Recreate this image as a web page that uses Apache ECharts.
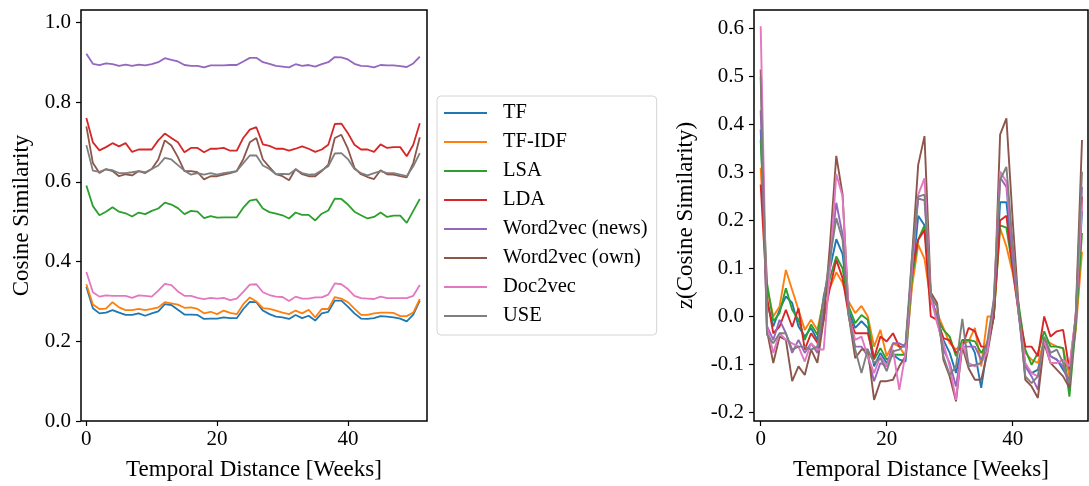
<!DOCTYPE html>
<html>
<head>
<meta charset="utf-8">
<script src="https://cdn.jsdelivr.net/npm/echarts@6/dist/echarts.min.js"></script>
<style>
  html, body { margin: 0; padding: 0; background: #fff; }
  #chart { width: 1089px; height: 486px; }
</style>
</head>
<body>
<div id="chart"></div>
<script>
// Temporal distance in weeks (x values shared by both panels)
const weeks = [0,1,2,3,4,5,6,7,8,9,10,11,12,13,14,15,16,17,18,19,20,21,22,23,24,25,
               26,27,28,29,30,31,32,33,34,35,36,37,38,39,40,41,42,43,44,45,46,47,48,49,50,51];

const methods = ['TF', 'TF-IDF', 'LSA', 'LDA', 'Word2vec (news)', 'Word2vec (own)', 'Doc2vec', 'USE'];
const colors  = ['#1f77b4', '#ff7f0e', '#2ca02c', '#d62728', '#9467bd', '#8c564b', '#e377c2', '#7f7f7f'];

// Mean cosine similarity per temporal distance
const simTF = [0.337,0.283,0.270,0.272,0.278,0.272,0.266,0.266,0.270,0.264,0.270,0.275,0.293,0.291,0.279,0.267,0.267,0.266,0.256,0.257,0.257,0.260,0.258,0.258,0.281,0.299,
               0.298,0.277,0.268,0.262,0.260,0.256,0.266,0.258,0.264,0.252,0.270,0.274,0.302,0.302,0.287,0.270,0.257,0.256,0.258,0.263,0.262,0.260,0.257,0.250,0.267,0.302];
const simTFIDF = [0.343,0.292,0.281,0.282,0.298,0.285,0.278,0.278,0.281,0.278,0.281,0.285,0.298,0.295,0.292,0.284,0.285,0.281,0.270,0.274,0.268,0.277,0.271,0.268,0.293,0.310,
                  0.300,0.283,0.281,0.277,0.272,0.268,0.277,0.270,0.279,0.260,0.281,0.281,0.311,0.307,0.298,0.282,0.266,0.266,0.270,0.272,0.272,0.271,0.263,0.263,0.272,0.306];
const simLSA = [0.591,0.539,0.516,0.525,0.536,0.525,0.521,0.513,0.523,0.519,0.527,0.533,0.548,0.543,0.534,0.519,0.527,0.525,0.509,0.514,0.510,0.511,0.511,0.511,0.535,0.553,
                0.556,0.533,0.524,0.520,0.516,0.508,0.523,0.517,0.517,0.503,0.520,0.528,0.558,0.557,0.543,0.525,0.516,0.508,0.512,0.523,0.512,0.515,0.515,0.497,0.527,0.557];
const simLDA = [0.760,0.699,0.679,0.687,0.697,0.689,0.697,0.675,0.681,0.681,0.681,0.704,0.721,0.710,0.699,0.674,0.685,0.685,0.674,0.683,0.683,0.685,0.678,0.678,0.710,0.731,
                0.737,0.694,0.690,0.683,0.683,0.678,0.683,0.689,0.683,0.675,0.681,0.693,0.745,0.746,0.722,0.693,0.681,0.681,0.675,0.694,0.685,0.687,0.687,0.664,0.693,0.747];
const simW2VNews = [0.921,0.896,0.893,0.897,0.895,0.891,0.894,0.891,0.894,0.892,0.895,0.900,0.910,0.906,0.902,0.893,0.891,0.891,0.887,0.892,0.892,0.892,0.893,0.893,0.902,0.911,
                    0.911,0.900,0.896,0.891,0.889,0.887,0.895,0.891,0.893,0.889,0.895,0.900,0.913,0.912,0.907,0.896,0.891,0.890,0.887,0.893,0.892,0.892,0.890,0.888,0.897,0.914];
const simW2VOwn = [0.739,0.647,0.622,0.632,0.627,0.614,0.619,0.616,0.627,0.622,0.632,0.656,0.704,0.691,0.662,0.627,0.627,0.624,0.606,0.614,0.614,0.618,0.622,0.627,0.657,0.699,
                   0.710,0.656,0.637,0.619,0.614,0.604,0.632,0.619,0.614,0.614,0.627,0.643,0.710,0.718,0.683,0.635,0.619,0.612,0.607,0.629,0.619,0.618,0.614,0.611,0.647,0.712];
const simDoc2vec = [0.374,0.323,0.312,0.315,0.314,0.314,0.314,0.309,0.315,0.314,0.312,0.327,0.344,0.341,0.325,0.314,0.314,0.309,0.306,0.309,0.307,0.309,0.303,0.307,0.324,0.342,
                    0.343,0.323,0.316,0.312,0.311,0.301,0.312,0.307,0.307,0.310,0.310,0.317,0.345,0.343,0.331,0.314,0.308,0.307,0.306,0.312,0.308,0.308,0.308,0.308,0.314,0.341];
const simUSE = [0.692,0.628,0.625,0.631,0.629,0.622,0.622,0.624,0.627,0.624,0.632,0.641,0.660,0.656,0.642,0.628,0.618,0.622,0.618,0.622,0.618,0.622,0.624,0.627,0.647,0.666,
                0.666,0.641,0.632,0.619,0.620,0.619,0.631,0.622,0.618,0.619,0.629,0.639,0.671,0.672,0.657,0.632,0.622,0.616,0.622,0.627,0.622,0.622,0.618,0.614,0.639,0.672];

// z-scored cosine similarity per temporal distance
const zTF = [0.390,0.030,-0.021,0.014,0.042,0.028,-0.021,-0.042,-0.024,-0.049,0.042,0.100,0.161,0.130,0.010,-0.024,-0.010,-0.024,-0.104,-0.076,-0.097,-0.080,-0.090,-0.094,0.070,0.210,
             0.190,0.040,-0.004,-0.049,-0.076,-0.118,-0.059,-0.049,-0.076,-0.149,-0.063,0.000,0.238,0.238,0.120,0.010,-0.104,-0.118,-0.111,-0.056,-0.083,-0.090,-0.111,-0.132,-0.020,0.220];
const zTFIDF = [0.310,0.060,0.000,0.021,0.097,0.055,0.014,-0.028,-0.007,-0.028,0.035,0.060,0.092,0.070,0.030,0.007,0.022,0.000,-0.063,-0.028,-0.083,-0.056,-0.063,-0.083,0.060,0.150,
                0.120,0.030,0.007,-0.024,-0.056,-0.069,-0.056,-0.052,-0.024,-0.104,0.000,0.000,0.184,0.146,0.090,0.010,-0.076,-0.090,-0.097,-0.049,-0.056,-0.063,-0.066,-0.125,-0.030,0.135];
const zLSA = [0.368,0.070,-0.010,0.007,0.059,0.014,-0.007,-0.049,-0.017,-0.038,0.035,0.080,0.125,0.100,0.020,-0.014,0.003,-0.007,-0.090,-0.066,-0.090,-0.080,-0.080,-0.080,0.080,0.160,
              0.190,0.040,-0.003,-0.028,-0.042,-0.083,-0.049,-0.049,-0.052,-0.076,-0.056,0.000,0.190,0.185,0.100,0.020,-0.069,-0.101,-0.076,-0.031,-0.063,-0.063,-0.066,-0.167,-0.020,0.174];
const zLDA = [0.275,0.040,-0.035,-0.021,0.014,-0.022,0.017,-0.069,-0.035,-0.055,-0.007,0.060,0.118,0.080,0.000,-0.035,-0.035,-0.035,-0.087,-0.042,-0.052,-0.035,-0.063,-0.063,0.100,0.160,
              0.180,0.000,-0.007,-0.045,-0.050,-0.076,-0.063,-0.024,-0.031,-0.063,-0.063,0.000,0.200,0.210,0.100,0.000,-0.063,-0.063,-0.083,0.000,-0.042,-0.031,-0.028,-0.111,0.000,0.250];
const zW2VNews = [0.430,-0.020,-0.049,-0.007,-0.035,-0.076,-0.049,-0.076,-0.056,-0.076,0.010,0.120,0.237,0.170,0.000,-0.063,-0.063,-0.083,-0.135,-0.097,-0.104,-0.056,-0.056,-0.063,0.100,0.246,
                  0.242,0.050,-0.007,-0.069,-0.097,-0.146,-0.063,-0.063,-0.063,-0.090,-0.070,0.007,0.290,0.270,0.120,0.000,-0.104,-0.125,-0.153,-0.049,-0.083,-0.090,-0.104,-0.146,-0.010,0.270];
const zW2VOwn = [0.515,-0.030,-0.097,-0.042,-0.049,-0.135,-0.104,-0.122,-0.069,-0.097,-0.007,0.150,0.335,0.254,0.000,-0.087,-0.069,-0.069,-0.174,-0.135,-0.135,-0.132,-0.104,-0.083,0.120,0.316,
                 0.376,0.050,0.028,-0.090,-0.125,-0.177,-0.063,-0.108,-0.132,-0.132,-0.076,0.000,0.379,0.413,0.200,0.010,-0.132,-0.146,-0.170,-0.056,-0.097,-0.111,-0.125,-0.149,0.000,0.368];
const zDoc2vec = [0.605,-0.020,-0.076,-0.035,-0.049,-0.056,-0.063,-0.094,-0.056,-0.069,-0.069,0.100,0.297,0.250,0.000,-0.049,-0.042,-0.083,-0.118,-0.083,-0.104,-0.069,-0.153,-0.076,0.100,0.254,
                  0.288,0.040,-0.014,-0.056,-0.104,-0.174,-0.056,-0.097,-0.104,-0.097,-0.073,0.035,0.302,0.281,0.150,0.000,-0.097,-0.118,-0.125,-0.049,-0.097,-0.097,-0.090,-0.104,0.000,0.231];
const zUSE = [0.500,-0.038,-0.056,-0.035,-0.035,-0.069,-0.063,-0.063,-0.069,-0.063,0.035,0.120,0.205,0.160,0.000,-0.069,-0.118,-0.069,-0.097,-0.087,-0.114,-0.073,-0.069,-0.056,0.120,0.250,
              0.254,0.042,0.021,-0.083,-0.122,-0.104,-0.005,-0.104,-0.101,-0.097,-0.049,0.035,0.285,0.312,0.150,0.000,-0.125,-0.139,-0.125,-0.042,-0.076,-0.069,-0.097,-0.139,0.000,0.302];

const simSeries = [simTF, simTFIDF, simLSA, simLDA, simW2VNews, simW2VOwn, simDoc2vec, simUSE];
const zSeries = [zTF, zTFIDF, zLSA, zLDA, zW2VNews, zW2VOwn, zDoc2vec, zUSE];

// Tick positions
const weekTicks = [0, 20, 40];
const simTicks = [0, 0.2, 0.4, 0.6, 0.8, 1.0];
const zTicks = [-0.2, -0.1, 0, 0.1, 0.2, 0.3, 0.4, 0.5, 0.6];

const FONT = 'Liberation Serif';

function pairs(vals) {
  return weeks.map((w, i) => [w, vals[i]]);
}

function xAxisFor(gridIndex, min, max) {
  return {
    type: 'value', gridIndex, min, max,
    position: 'bottom',
    axisLine: { show: false, onZero: false },
    splitLine: { show: false },
    axisTick: { show: true, length: 5, customValues: weekTicks, lineStyle: { color: '#000', width: 1.2 } },
    axisLabel: { customValues: weekTicks, margin: 8, color: '#000', fontFamily: FONT, fontSize: 21 },
    name: 'Temporal Distance [Weeks]',
    nameLocation: 'middle', nameGap: 37,
    nameTextStyle: { color: '#000', fontFamily: FONT, fontSize: 23 }
  };
}

function yAxisFor(gridIndex, min, max, ticks, name, gap) {
  return {
    type: 'value', gridIndex, min, max,
    position: 'left',
    axisLine: { show: false, onZero: false },
    splitLine: { show: false },
    axisTick: { show: true, length: 5, customValues: ticks, lineStyle: { color: '#000', width: 1.2 } },
    axisLabel: {
      customValues: ticks, margin: 10, color: '#000', fontFamily: FONT, fontSize: 21,
      formatter: v => (Math.abs(v) < 1e-9 ? 0 : v).toFixed(1)
    },
    name, nameLocation: 'middle', nameGap: gap,
    nameTextStyle: { color: '#000', fontFamily: FONT, fontSize: 23 }
  };
}

const series = [];
methods.forEach((m, k) => {
  series.push({
    name: m, type: 'line', xAxisIndex: 0, yAxisIndex: 0,
    data: pairs(simSeries[k]), showSymbol: false, symbol: 'none',
    lineStyle: { color: colors[k], width: 1.8 }, itemStyle: { color: colors[k] },
    animation: false
  });
});
methods.forEach((m, k) => {
  series.push({
    name: m, type: 'line', xAxisIndex: 1, yAxisIndex: 1,
    data: pairs(zSeries[k]), showSymbol: false, symbol: 'none',
    lineStyle: { color: colors[k], width: 1.9 }, itemStyle: { color: colors[k] },
    animation: false
  });
});

const chart = echarts.init(document.getElementById('chart'), null, { renderer: 'canvas' });
chart.setOption({
  backgroundColor: '#fff',
  animation: false,
  textStyle: { fontFamily: FONT },
  grid: [
    { left: 81, top: 10, width: 346, height: 412, show: true, borderColor: '#000', borderWidth: 1.5, containLabel: false },
    { left: 754, top: 10, width: 334, height: 411, show: true, borderColor: '#000', borderWidth: 1.5, containLabel: false }
  ],
  xAxis: [xAxisFor(0, -0.82, 52.1), xAxisFor(1, -1.06, 51.95)],
  yAxis: [
    yAxisFor(0, 0, 1.031, simTicks, 'Cosine Similarity', 48),
    yAxisFor(1, -0.218, 0.639, zTicks, 'z(Cosine Similarity)', 57)
  ],
  legend: {
    data: methods,
    orient: 'vertical',
    left: 437, top: 96,
    padding: [6, 9, 8, 7],
    itemWidth: 43, itemHeight: 2, itemGap: 7,
    icon: 'rect',
    backgroundColor: '#fff',
    borderColor: '#d4d4d4', borderWidth: 1, borderRadius: 4,
    textStyle: { color: '#000', fontFamily: FONT, fontSize: 20.5, lineHeight: 22, padding: [0, 0, 0, 11] },
    selectedMode: false
  },
  series
});
</script>
</body>
</html>
